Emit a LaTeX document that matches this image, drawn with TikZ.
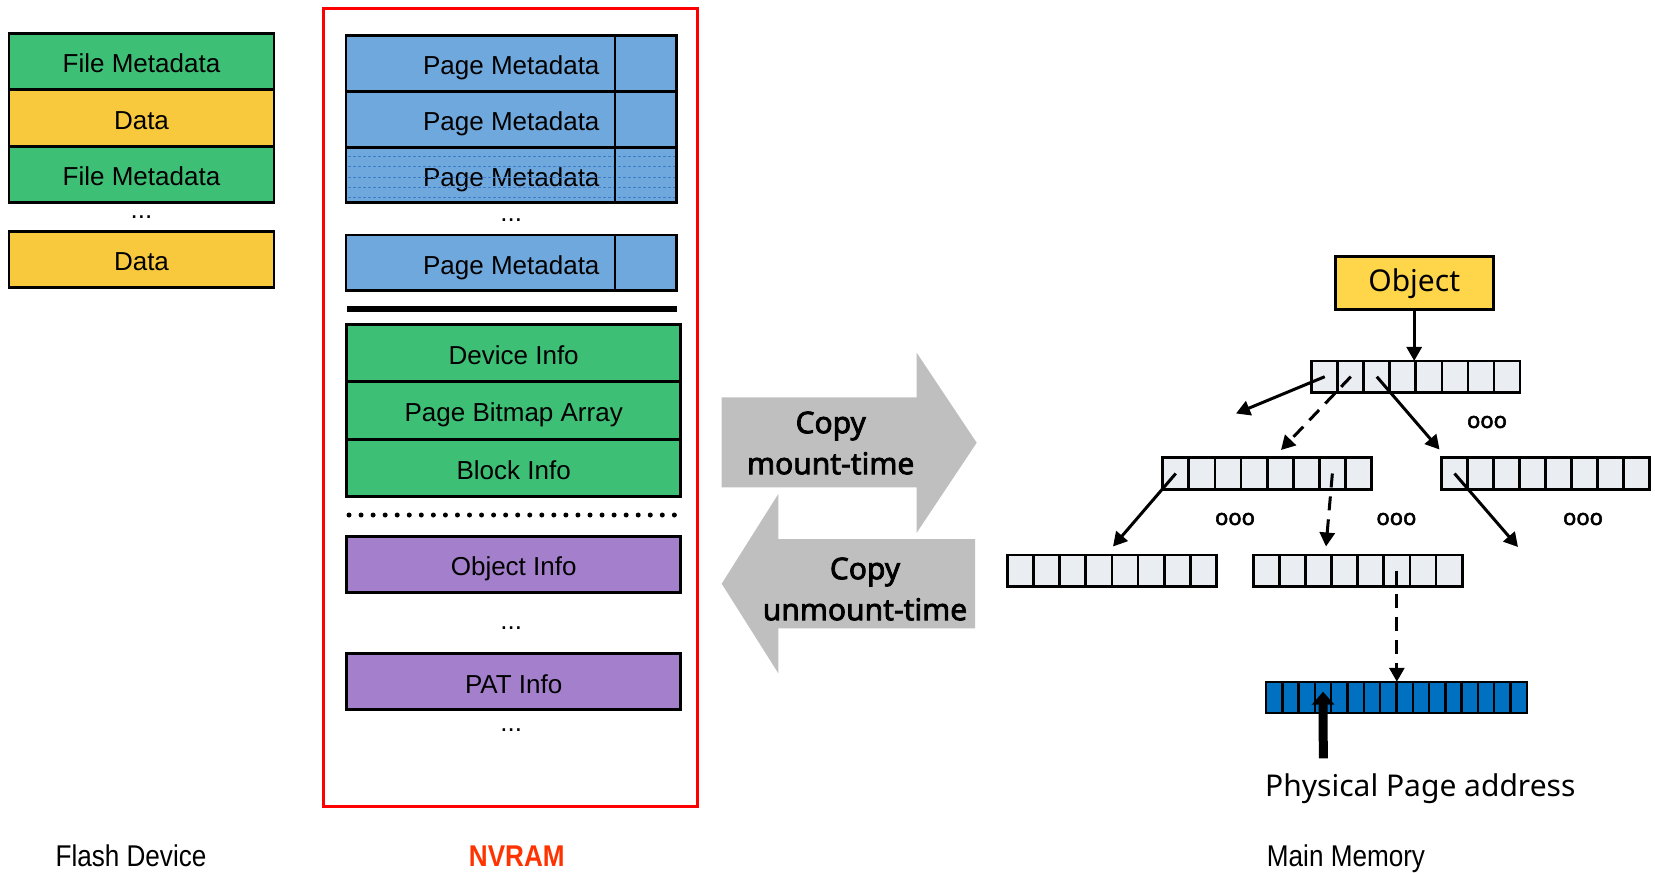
\documentclass[tikz,border=0pt]{standalone}
\usepackage{fontspec}
\setmainfont{Liberation Sans}
\newfontfamily\gothic{Noto Sans}
\newfontfamily\gothicbold{Noto Sans}[FakeBold=2.5]
\usepackage{tikz}
\usetikzlibrary{positioning, arrows.meta, calc}
\definecolor{meta-green}{HTML}{3DBF76}
\definecolor{data-yellow}{HTML}{F9C93D}
\definecolor{page-blue}{HTML}{6FA8DC}
\definecolor{page-line}{HTML}{3D7CC9}
\definecolor{info-purple}{HTML}{A47FCB}
\definecolor{obj-yellow}{HTML}{FFD54A}
\definecolor{cell-gray}{HTML}{EAEEF2}
\definecolor{ppa-blue}{HTML}{0070C0}
\definecolor{copy-gray}{HTML}{BFBFBF}
\definecolor{nv-red}{HTML}{FF0000}
\definecolor{nv-label}{HTML}{FF3300}

% a row of array cells: name, left x, centre y, count, cell width, fill
\newcommand{\cellrow}[6]{%
  \foreach \i in {1,...,#4}
    \node[cell, minimum width=#5pt, fill=#6] (#1\i) at ({#2+(\i-0.5)*#5}, #3) {};
}

\begin{document}
\begin{tikzpicture}[x=1pt, y=-1pt,
    blk/.style={draw, line width=2.8pt, inner sep=0pt, outer sep=0pt, text height=22.6pt, text depth=0pt,
                minimum height=56pt, font=\fontsize{26pt}{30pt}\selectfont},
    cell/.style={draw, line width=2.8pt, inner sep=0pt, outer sep=0pt, minimum height=31.5pt},
    pcell/.style={draw, line width=2.4pt, inner sep=0pt, outer sep=0pt, minimum height=31.5pt,
                  minimum width=16.3pt, fill=ppa-blue},
    arr/.style={-{Triangle[length=14pt, width=15pt]}, line width=3pt},
    darr/.style={arr, dash pattern=on 14pt off 9pt},
    dots/.style={inner sep=0pt, font=\fontsize{26pt}{30pt}\selectfont},
    ooo/.style={inner sep=0pt, font=\gothicbold\fontsize{22pt}{24pt}\selectfont},
    copytxt/.style={align=center, inner sep=0pt, font=\gothicbold\fontsize{30pt}{41pt}\selectfont},
    label/.style={anchor=base, inner sep=0pt, font=\fontsize{30pt}{34pt}\selectfont},
]
    \useasboundingbox (0,0) rectangle (1655,873);

    % flash device
    \node[blk, minimum width=265pt, fill=meta-green]  (fm1) at (141.5, 61.3)  {File Metadata};
    \node[blk, minimum width=265pt, fill=data-yellow] (d1)  at (141.5, 118)   {Data};
    \node[blk, minimum width=265pt, fill=meta-green]  (fm2) at (141.5, 174.3) {File Metadata};
    \node[dots] (fdots) at (141.5, 216.7) {...};
    \node[blk, minimum width=265pt, fill=data-yellow] (d2)  at (141.5, 259.5) {Data};

    % nvram
    \draw[nv-red, line width=3pt] (323,8.5) rectangle (697,806);
    \node[blk, minimum width=330.7pt, minimum height=55.7pt, fill=page-blue] (pm1) at (511.3, 63.5)  {Page Metadata};
    \node[blk, minimum width=330.7pt, minimum height=55.7pt, fill=page-blue] (pm2) at (511.3, 119.2) {Page Metadata};
    \node[blk, minimum width=330.7pt, minimum height=55.7pt, fill=page-blue] (pm3) at (511.3, 175)   {Page Metadata};
    \foreach \yy in {156.7,166.7,177.3,187.7,197.7}
        \draw[page-line, line width=0.8pt, dash pattern=on 3pt off 2pt] (348,\yy) -- (675,\yy);
    \draw[line width=2.8pt] ([xshift=-61.7pt]pm1.north east) -- ([xshift=-61.7pt]pm3.south east);
    \node[dots] (pdots) at (511.3, 220) {...};
    \node[blk, minimum width=330.7pt, minimum height=55.7pt, fill=page-blue] (pm4) at (511.3, 262.8) {Page Metadata};
    \draw[line width=2.8pt] ([xshift=-61.7pt]pm4.north east) -- ([xshift=-61.7pt]pm4.south east);
    \draw[line width=6pt] (347,308.7) -- (677,308.7);

    \node[blk, minimum width=334pt, minimum height=57pt, fill=meta-green] (dev) at (513.7, 353.3) {Device Info};
    \node[blk, minimum width=334pt, minimum height=57pt, fill=meta-green] (pba) at (513.7, 410.5) {Page Bitmap Array};
    \node[blk, minimum width=334pt, minimum height=57pt, fill=meta-green] (blk) at (513.7, 468.3) {Block Info};
    \draw[line width=5pt, line cap=round, dash pattern=on 0pt off 12.05pt] (349,515) -- (675,515);
    \node[blk, minimum width=334pt, fill=info-purple] (obi) at (513.7, 564.3) {Object Info};
    \node[dots] (idots) at (511.3, 628) {...};
    \node[blk, minimum width=334pt, fill=info-purple] (pat) at (513.7, 681.7) {PAT Info};
    \node[dots] (edots) at (511.3, 730) {...};

    % copy arrows
    \fill[copy-gray] (721.7,397.3) -- (916.7,397.3) -- (916.7,352.7) -- (976.7,442.7)
        -- (916.7,532.7) -- (916.7,487.3) -- (721.7,487.3) -- cycle;
    \fill[copy-gray] (975,539) -- (778.3,539) -- (778.3,494) -- (721.7,583.7)
        -- (778.3,673.3) -- (778.3,628.3) -- (975,628.3) -- cycle;
    \node[copytxt] (mnt) at (830.7, 443) {Copy\\mount-time};
    \node[copytxt] (umnt) at (865, 589) {Copy\\unmount-time};

    % main memory tree
    \node[draw, line width=3pt, fill=obj-yellow, minimum width=158pt, minimum height=53pt,
          inner sep=0pt, font=\gothic\fontsize{30pt}{34pt}\selectfont] (ob) at (1414.2, 283.3) {Object};
    \cellrow{t}{1311.7}{376.7}{8}{26.04}{cell-gray}
    \cellrow{ml}{1162.7}{473.5}{8}{26.1}{cell-gray}
    \cellrow{mr}{1441.5}{473.5}{8}{26}{cell-gray}
    \cellrow{bl}{1007.3}{570.8}{8}{26.15}{cell-gray}
    \cellrow{bm}{1253.3}{570.8}{8}{26.1}{cell-gray}
    \foreach \i in {1,...,16}
        \node[pcell] (p\i) at ({1266+(\i-0.5)*16.3}, 697.5) {};

    \node[ooo] (o1) at (1487, 422) {ooo};
    \node[ooo] (o2) at (1235, 519) {ooo};
    \node[ooo] (o3) at (1396.4, 519) {ooo};
    \node[ooo] (o4) at (1583, 519) {ooo};

    \coordinate (e1) at (1236, 413.5);
    \coordinate (e2) at (1281, 450);
    \coordinate (e3) at (1439.5, 449.5);
    \coordinate (e4) at (1113, 546.5);
    \coordinate (e5) at (1326, 546.5);
    \coordinate (e6) at (1518, 547);
    \coordinate (pp) at (1323.3, 758.3);

    \draw[arr] (ob.south) -- (ob.south |- t4.north);
    \draw[arr] (t1.center) -- (e1);
    \draw[darr] (t2.center) -- (e2);
    \draw[arr] (t3.center) -- (e3);
    \draw[arr] (ml1.center) -- (e4);
    \draw[darr] (ml7.center) -- (e5);
    \draw[arr] (mr1.center) -- (e6);
    \draw[darr] (bm6.center) -- (bm6.center |- p8.north);
    \draw[-{Triangle[length=13pt, width=22pt]}, line width=9pt] (pp) -- ([yshift=5.8pt]p4.center);

    \node[anchor=base west, inner sep=0pt, font=\gothic\fontsize{30pt}{34pt}\selectfont] (ppa)
        at (1265, 796.7) {Physical Page address};

    % labels
    \node[label] (fd) at (131, 866.7) {\scalebox{0.87}[1]{Flash Device}};
    \node[label, text=nv-label, font=\bfseries\fontsize{30pt}{34pt}\selectfont] (nv) at (516.8, 866.7) {\scalebox{0.87}[1]{NVRAM}};
    \node[label] (mm) at (1346, 866.7) {\scalebox{0.87}[1]{Main Memory}};
\end{tikzpicture}
\end{document}
